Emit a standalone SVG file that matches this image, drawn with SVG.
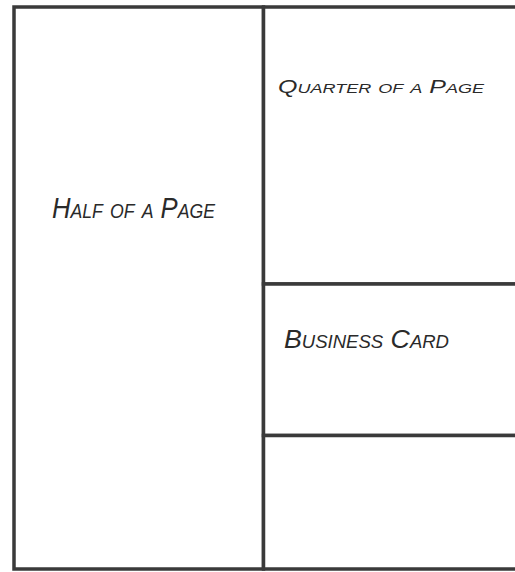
<svg xmlns="http://www.w3.org/2000/svg" width="515" height="572" viewBox="0 0 515 572">
<style>
.panel{fill:#fff;stroke:#3a3a3a;stroke-width:3.5}
.lbl{font-family:"Liberation Sans",Arial,sans-serif;font-style:italic;font-variant:small-caps;fill:#2a2a2a;font-weight:normal}
</style>
<rect x="0" y="0" width="515" height="572" fill="#fff"/>
<g id="half-page">
<rect class="panel" x="14" y="7" width="249.5" height="562"/>
<text class="lbl" x="52" y="218" font-size="29" textLength="163" lengthAdjust="spacingAndGlyphs">Half of a Page</text>
</g>
<g id="quarter-page">
<rect class="panel" x="263.5" y="7" width="256" height="277"/>
<text class="lbl" x="278" y="93" font-size="18" textLength="206" lengthAdjust="spacingAndGlyphs">Quarter of a Page</text>
</g>
<g id="business-card">
<rect class="panel" x="263.5" y="284" width="256" height="151.5"/>
<text class="lbl" x="284" y="348" font-size="26" textLength="165" lengthAdjust="spacingAndGlyphs">Business Card</text>
</g>
<g id="bottom-space">
<rect class="panel" x="263.5" y="435.5" width="256" height="133.5"/>
</g>
<g id="connectors"></g>
</svg>
